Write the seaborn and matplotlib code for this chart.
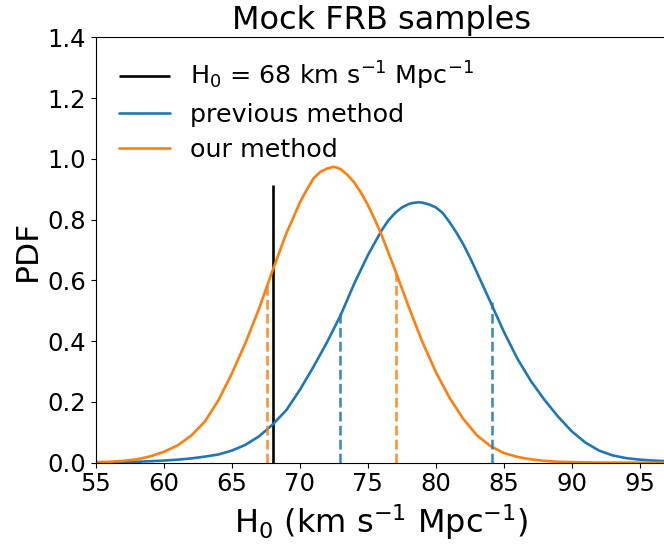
import matplotlib
matplotlib.use("Agg")
import matplotlib.pyplot as plt
import seaborn as sns
import pandas as pd

# ---- data ----
x_prev = [55, 56, 57, 58, 59, 60, 61, 62, 63, 64, 65, 66, 67, 68, 69, 70, 71, 72, 73, 74, 75,
          76, 76.5, 77, 77.5, 78, 78.2, 78.7, 79, 79.5, 80, 80.5, 81, 81.5, 82, 82.5, 83, 84, 85,
          86, 87, 88, 89, 90, 91, 92, 93, 94, 95, 96, 97]
y_prev = [0.001, 0.001, 0.002, 0.003, 0.005, 0.007, 0.010, 0.014, 0.020, 0.027, 0.040, 0.059,
          0.087, 0.126, 0.173, 0.240, 0.316, 0.397, 0.486, 0.590, 0.683,
          0.764, 0.797, 0.822, 0.840, 0.851, 0.854, 0.857, 0.856, 0.850, 0.840, 0.822, 0.792,
          0.758, 0.720, 0.676, 0.628, 0.530, 0.431,
          0.342, 0.268, 0.206, 0.151, 0.103, 0.066, 0.040, 0.024, 0.015, 0.010, 0.007, 0.005]

x_ours = [55, 56, 57, 58, 59, 60, 61, 62, 63, 64, 65, 66, 67, 68, 69, 69.5, 70, 70.5, 71, 71.5,
          72, 72.5, 73, 73.5, 74, 74.5, 75, 75.5, 76, 77, 78, 79, 80, 81, 82, 83, 84, 85, 86, 87,
          88, 89, 90, 91, 92, 93, 94, 95, 96, 97]
y_ours = [0.002, 0.003, 0.006, 0.011, 0.021, 0.036, 0.057, 0.089, 0.135, 0.205, 0.294, 0.395,
          0.508, 0.634, 0.755, 0.805, 0.857, 0.898, 0.936, 0.957,
          0.968, 0.974, 0.966, 0.947, 0.922, 0.888, 0.848, 0.801, 0.750, 0.634, 0.513, 0.398,
          0.298, 0.214, 0.145, 0.091, 0.055, 0.032, 0.019, 0.011,
          0.006, 0.003, 0.002, 0.001, 0.0005, 0.0003, 0.0002, 0.0001, 0.0, 0.0]

h0_true = 68
h0_true_top = 0.915
prev_bounds = [72.95, 84.1]
prev_bound_heights = [0.495, 0.528]
ours_bounds = [67.55, 77.1]
ours_bound_heights = [0.585, 0.62]

labels = ["H$_0$ = 68 km s$^{-1}$ Mpc$^{-1}$", "previous method", "our method"]
title = "Mock FRB samples"
xlabel = "H$_0$ (km s$^{-1}$ Mpc$^{-1}$)"
ylabel = "PDF"
xticks = [55, 60, 65, 70, 75, 80, 85, 90, 95]
yticks = [0.0, 0.2, 0.4, 0.6, 0.8, 1.0, 1.2, 1.4]

# ---- style ----
sns.set_theme(style="ticks")
plt.rcParams.update({
    "font.family": ["DejaVu Sans"],
    "axes.linewidth": 0.8,
    "xtick.major.size": 3.5,
    "ytick.major.size": 3.5,
    "xtick.major.width": 0.8,
    "ytick.major.width": 0.8,
    "xtick.color": "black",
    "ytick.color": "black",
    "axes.edgecolor": "black",
    "text.color": "black",
    "axes.labelcolor": "black",
    "lines.solid_joinstyle": "round",
})

blue = "#1f77b4"
orange = "#ff7f0e"
lw = 1.9

fig = plt.figure(figsize=(6.64, 5.47), dpi=100)
ax = fig.add_axes([96 / 664, (547 - 462.7) / 547, (667 - 96) / 664, (462.7 - 37.3) / 547])

ax.vlines(h0_true, 0, h0_true_top, color="black", lw=lw, label=labels[0])

df_prev = pd.DataFrame({"x": x_prev, "y": y_prev})
df_ours = pd.DataFrame({"x": x_ours, "y": y_ours})
sns.lineplot(data=df_prev, x="x", y="y", ax=ax, color=blue, lw=lw, label=labels[1], sort=False)
sns.lineplot(data=df_ours, x="x", y="y", ax=ax, color=orange, lw=lw, label=labels[2], sort=False)

ax.vlines(prev_bounds, 0, prev_bound_heights, color=blue, lw=lw, linestyles="--", alpha=0.85)
ax.vlines(ours_bounds, 0, ours_bound_heights, color=orange, lw=lw, linestyles="--", alpha=0.85)

ax.set_xlim(55, 97)
ax.set_ylim(0, 1.4)
ax.set_xticks(xticks)
ax.set_yticks(yticks)
ax.set_xticklabels([str(t) for t in xticks])
ax.set_yticklabels([f"{t:.1f}" for t in yticks])
ax.tick_params(labelsize=17.5)
ax.set_xlabel(xlabel, fontsize=23)
ax.set_ylabel(ylabel, fontsize=22.5)
ax.set_title(title, fontsize=23)

ax.legend(loc="upper left", frameon=False, fontsize=18.3, labelspacing=0.42)

fig.savefig("out.png", dpi=100)
